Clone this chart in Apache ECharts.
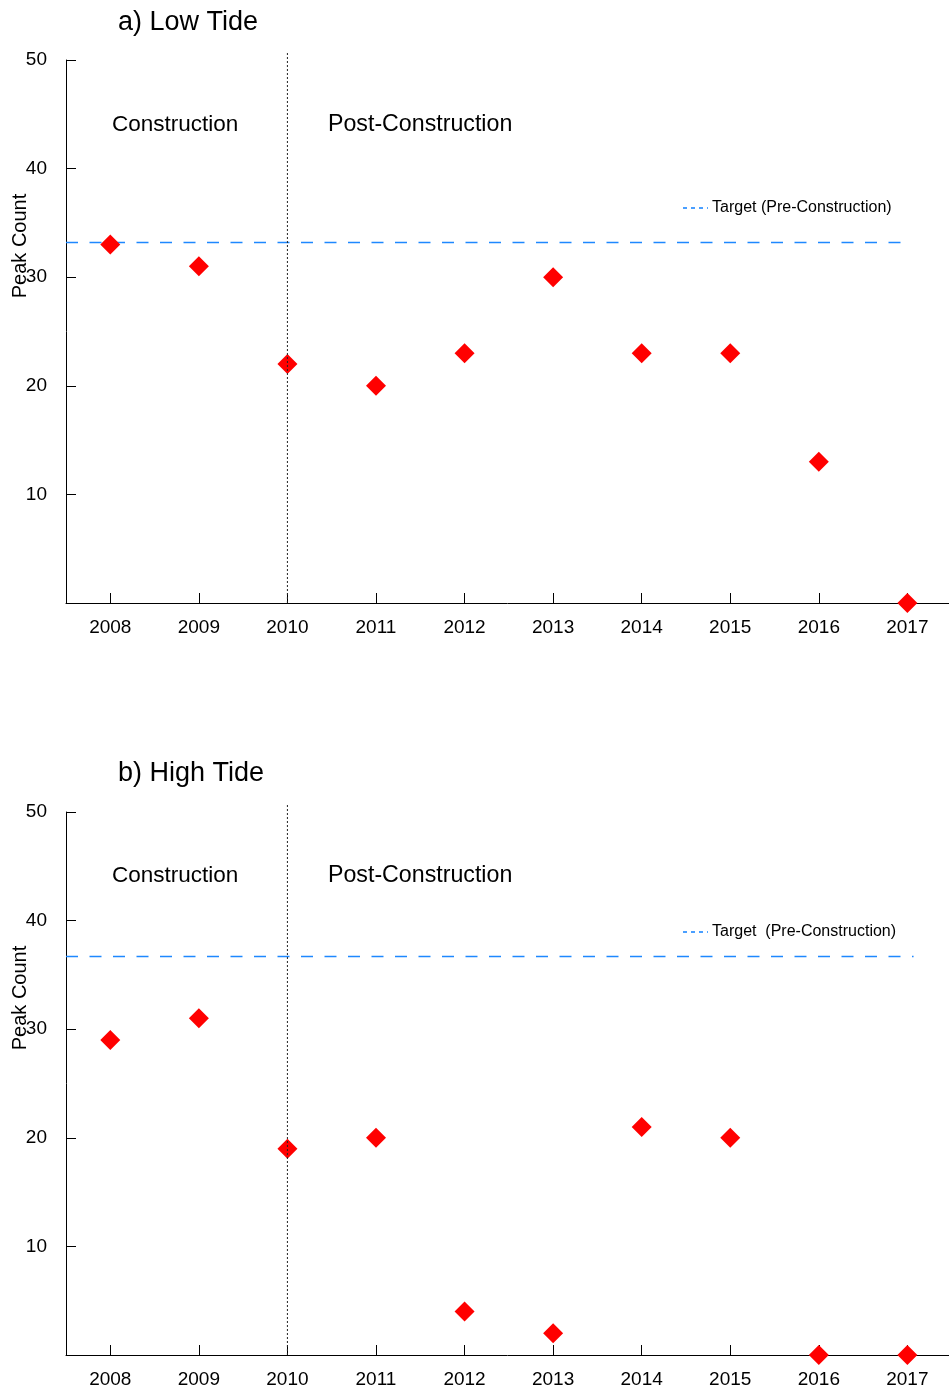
<!DOCTYPE html>
<html>
<head>
<meta charset="utf-8">
<script src="https://cdn.jsdelivr.net/npm/echarts@6/dist/echarts.min.js"></script>
<style>html,body{margin:0;padding:0;background:#fff;}#c{width:949px;height:1394px;}</style>
</head>
<body>
<div id="c"></div>
<script>
const years = [2008, 2009, 2010, 2011, 2012, 2013, 2014, 2015, 2016, 2017];
const lowTide = [33, 31, 22, 20, 23, 30, 23, 23, 13, 0];
const highTide = [29, 31, 19, 20, 4, 2, 21, 20, 0, 0];
const lowTarget = 33.2;
const highTarget = 36.7;
const yTicks = [0, 10, 20, 30, 40, 50];
const dividerYear = 2010;

const FONT = '"Liberation Sans", Arial, sans-serif';
const chart = echarts.init(document.getElementById('c'), null, {renderer: 'canvas'});

function xAx(g) {
  return {
    type: 'value', gridIndex: g, min: 2007.5, max: 2017.47,
    axisLine: {show: true, onZero: false, lineStyle: {color: '#000', width: 1}},
    axisTick: {show: true, inside: true, length: 10, customValues: years, lineStyle: {color: '#000'}},
    axisLabel: {fontSize: 19, fontFamily: FONT, color: '#000', margin: 15, customValues: years,
      showMinLabel: true, showMaxLabel: true, formatter: v => String(v)},
    splitLine: {show: false}
  };
}
function yAx(g) {
  return {
    type: 'value', gridIndex: g, min: yTicks[0], max: yTicks[yTicks.length - 1], interval: 10,
    axisLine: {show: true, lineStyle: {color: '#000', width: 1}},
    axisTick: {show: true, inside: true, length: 10, lineStyle: {color: '#000'}},
    axisLabel: {fontSize: 19, fontFamily: FONT, color: '#000', margin: 19, padding: [7, 0, 0, 0],
      formatter: v => (v === 0 ? '' : String(v))},
    splitLine: {show: false}
  };
}
function scatter(i, vals) {
  return {type: 'scatter', xAxisIndex: i, yAxisIndex: i, data: years.map((y, k) => [y, vals[k]]),
    symbol: 'diamond', symbolSize: 20, itemStyle: {color: '#ff0000', opacity: 1}, z: 3};
}
function target(i, v, end) {
  return {type: 'line', xAxisIndex: i, yAxisIndex: i, data: [[2007.5, v], [end, v]],
    symbol: 'none', silent: true, z: 2,
    lineStyle: {color: '#1e88ff', width: 1.6, type: [12, 11.5]}};
}
function divider(i) {
  return {type: 'line', xAxisIndex: i, yAxisIndex: i, data: [[dividerYear, 0], [dividerYear, 50.75]],
    symbol: 'none', silent: true, clip: false, z: 4,
    lineStyle: {color: '#222', width: 1, type: [2, 2]}};
}
function txt(x, y, text, size, align, rot) {
  return {type: 'text', x: x, y: y, rotation: rot || 0,
    style: {text: text, fontSize: size, fontFamily: FONT, fill: '#000',
      textAlign: align || 'left', textVerticalAlign: 'middle'}};
}
function legendDash(y) {
  return {type: 'line', shape: {x1: 683, y1: y, x2: 708, y2: y},
    style: {stroke: '#1e88ff', lineWidth: 1.6, lineDash: [4, 4]}};
}

chart.setOption({
  animation: false,
  backgroundColor: '#fff',
  grid: [
    {left: 66, top: 60, right: 0, height: 543},
    {left: 66, top: 812, right: 0, height: 543}
  ],
  xAxis: [xAx(0), xAx(1)],
  yAxis: [yAx(0), yAx(1)],
  series: [
    target(0, lowTarget, 2017.02),
    divider(0),
    scatter(0, lowTide),
    target(1, highTarget, 2017.07),
    divider(1),
    scatter(1, highTide)
  ],
  graphic: [
    txt(118, 23, 'a) Low Tide', 27),
    txt(112, 125, 'Construction', 22.5),
    txt(328, 125, 'Post-Construction', 23.2),
    legendDash(208),
    txt(712, 208, 'Target (Pre-Construction)', 16),
    txt(20, 246, 'Peak Count', 20, 'center', Math.PI / 2),
    txt(118, 774, 'b) High Tide', 27),
    txt(112, 876, 'Construction', 22.5),
    txt(328, 876, 'Post-Construction', 23.2),
    legendDash(932),
    txt(712, 932, 'Target  (Pre-Construction)', 16),
    txt(20, 998, 'Peak Count', 20, 'center', Math.PI / 2)
  ]
});
</script>
</body>
</html>
